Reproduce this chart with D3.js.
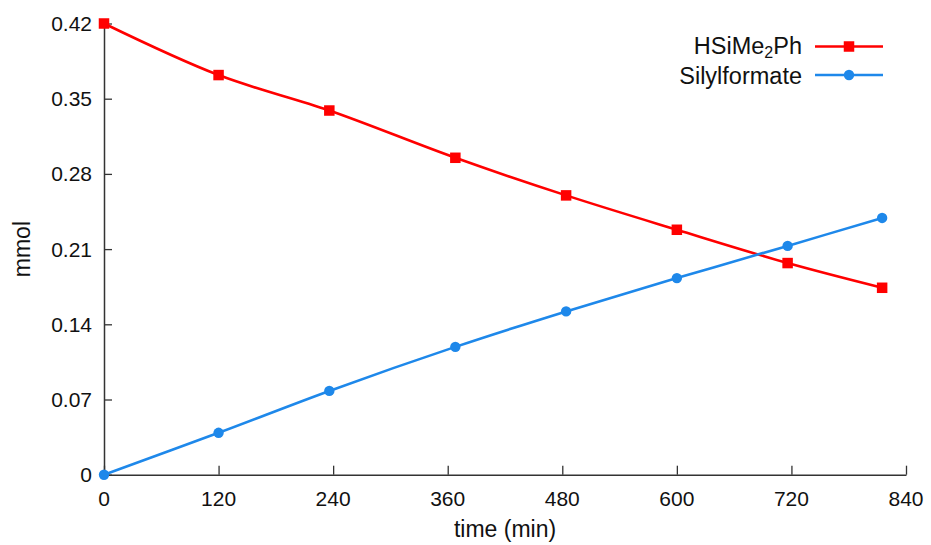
<!DOCTYPE html>
<html>
<head>
<meta charset="utf-8">
<script src="https://cdn.jsdelivr.net/npm/d3@7"></script>
<style>
  html, body { margin: 0; padding: 0; background: #fff; }
  svg { display: block; font-family: "Liberation Sans", Arial, sans-serif; }
</style>
</head>
<body>
<svg id="chart" width="931" height="545"></svg>
<script>
// Reaction time course: silane consumption vs. silyl formate formation
const silaneTime = [0, 120, 236, 368, 484, 600, 716, 815];
const silaneMmol = [0.420, 0.372, 0.339, 0.295, 0.260, 0.228, 0.197, 0.174];
const formateTime = [0, 120, 236, 368, 484, 600, 716, 815];
const formateMmol = [0.000, 0.039, 0.078, 0.119, 0.152, 0.183, 0.213, 0.239];
const xTicks = [0, 120, 240, 360, 480, 600, 720, 840];
const yTicks = [0, 0.07, 0.14, 0.21, 0.28, 0.35, 0.42];
const yTickLabels = ["0", "0.07", "0.14", "0.21", "0.28", "0.35", "0.42"];

const W = 931, H = 545;
const margin = { top: 23.5, right: 25, bottom: 70.3, left: 104 };
const svg = d3.select("#chart");

const x = d3.scaleLinear().domain([0, 840]).range([margin.left, W - margin.right]);
const y = d3.scaleLinear().domain([0, 0.42]).range([H - margin.bottom, margin.top]);

const axisColor = "#333";
const red = "#ff0000";
const blue = "#1e88ea";

// Y axis (ticks point into the plot)
const yAxis = svg.append("g")
  .attr("transform", `translate(${margin.left},0)`)
  .call(d3.axisRight(y).tickValues(yTicks).tickSize(8).tickSizeOuter(0).tickFormat(""));
yAxis.select(".domain").attr("stroke", axisColor).attr("stroke-width", 1.5);
yAxis.selectAll(".tick line").attr("stroke", axisColor).attr("stroke-width", 1.3);

svg.append("g").selectAll("text")
  .data(yTicks)
  .join("text")
  .attr("x", margin.left - 12)
  .attr("y", d => y(d))
  .attr("dy", "0.36em")
  .attr("text-anchor", "end")
  .attr("font-size", 21)
  .attr("fill", "#111")
  .text((d, i) => yTickLabels[i]);

// X axis (ticks point into the plot)
const xAxis = svg.append("g")
  .attr("transform", `translate(0,${H - margin.bottom})`)
  .call(d3.axisTop(x).tickValues(xTicks).tickSize(9).tickSizeOuter(0).tickFormat(""));
xAxis.select(".domain").attr("stroke", axisColor).attr("stroke-width", 1.5);
xAxis.selectAll(".tick line").attr("stroke", axisColor).attr("stroke-width", 1.3);

svg.append("g").selectAll("text")
  .data(xTicks)
  .join("text")
  .attr("x", d => x(d))
  .attr("y", H - margin.bottom + 24)
  .attr("dy", "0.36em")
  .attr("text-anchor", "middle")
  .attr("font-size", 21)
  .attr("fill", "#111")
  .text(d => d);

// Axis titles
svg.append("text")
  .attr("x", (x(0) + x(840)) / 2)
  .attr("y", 529)
  .attr("dy", "0.36em")
  .attr("text-anchor", "middle")
  .attr("font-size", 23)
  .attr("fill", "#111")
  .text("time (min)");

svg.append("text")
  .attr("transform", `translate(22,${(y(0) + y(0.42)) / 2}) rotate(-90)`)
  .attr("dy", "0.36em")
  .attr("text-anchor", "middle")
  .attr("font-size", 23)
  .attr("fill", "#111")
  .text("mmol");

// Series
const line = d3.line().x(d => x(d[0])).y(d => y(d[1])).curve(d3.curveCatmullRom.alpha(0.5));
const silane = silaneTime.map((t, i) => [t, silaneMmol[i]]);
const formate = formateTime.map((t, i) => [t, formateMmol[i]]);

svg.append("path").datum(silane)
  .attr("fill", "none").attr("stroke", red).attr("stroke-width", 2.6)
  .attr("d", line);
svg.append("path").datum(formate)
  .attr("fill", "none").attr("stroke", blue).attr("stroke-width", 2.6)
  .attr("d", line);

const sq = 10.5;
svg.append("g").selectAll("rect")
  .data(silane)
  .join("rect")
  .attr("x", d => x(d[0]) - sq / 2)
  .attr("y", d => y(d[1]) - sq / 2)
  .attr("width", sq).attr("height", sq)
  .attr("fill", red);

svg.append("g").selectAll("circle")
  .data(formate)
  .join("circle")
  .attr("cx", d => x(d[0]))
  .attr("cy", d => y(d[1]))
  .attr("r", 5.2)
  .attr("fill", blue);

// Legend
const legend = svg.append("g");
const legendRows = [
  { color: red, shape: "square", y: 46.5 },
  { color: blue, shape: "circle", y: 75 }
];
legendRows.forEach(r => {
  legend.append("line")
    .attr("x1", 815).attr("x2", 883).attr("y1", r.y).attr("y2", r.y)
    .attr("stroke", r.color).attr("stroke-width", 2.6);
  if (r.shape === "square") {
    legend.append("rect").attr("x", 849 - sq / 2).attr("y", r.y - sq / 2)
      .attr("width", sq).attr("height", sq).attr("fill", r.color);
  } else {
    legend.append("circle").attr("cx", 849).attr("cy", r.y).attr("r", 5.2).attr("fill", r.color);
  }
});

const t1 = legend.append("text")
  .attr("x", 802).attr("y", 45.5).attr("dy", "0.36em")
  .attr("text-anchor", "end").attr("font-size", 23.5).attr("fill", "#111");
t1.append("tspan").text("HSiMe");
t1.append("tspan").attr("font-size", 16).attr("dy", "0.26em").text("2");
t1.append("tspan").attr("dy", "-0.18em").text("Ph");

legend.append("text")
  .attr("x", 802).attr("y", 75.5).attr("dy", "0.36em")
  .attr("text-anchor", "end").attr("font-size", 23.5).attr("fill", "#111")
  .text("Silylformate");
</script>
</body>
</html>
